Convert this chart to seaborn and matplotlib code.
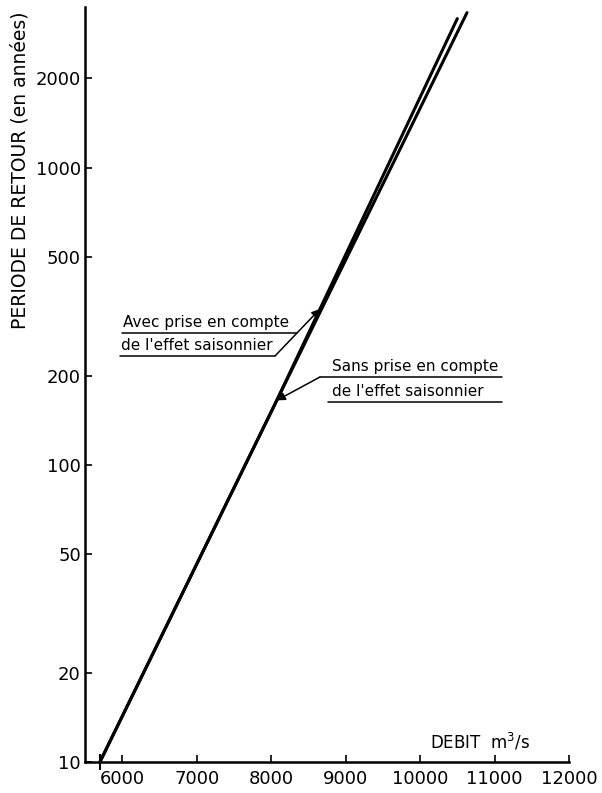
import numpy as np
import pandas as pd
import matplotlib
matplotlib.use("Agg")
import matplotlib.pyplot as plt
import seaborn as sns

# Débit (m3/s) et période de retour (années) le long de chaque droite
debit_avec = [5700, 8050, 10500]
periode_avec = [10, 160, 3180]
debit_sans = [5700, 8050, 10630]
periode_sans = [10, 160, 3330]

label_avec = "Avec prise en compte\nde l'effet saisonnier"
label_sans = "Sans prise en compte\nde l'effet saisonnier"

x_ticks = [6000, 7000, 8000, 9000, 10000, 11000, 12000]
y_ticks = [10, 20, 50, 100, 200, 500, 1000, 2000]

df = pd.concat([
    pd.DataFrame({"debit": debit_avec, "periode": periode_avec, "serie": "avec"}),
    pd.DataFrame({"debit": debit_sans, "periode": periode_sans, "serie": "sans"}),
], ignore_index=True)

sns.set_style("ticks")
plt.rcParams["font.family"] = ["DejaVu Sans"]
plt.rcParams["text.color"] = "black"
plt.rcParams["axes.labelcolor"] = "black"

W, H = 602, 793
fig = plt.figure(figsize=(W / 100, H / 100), dpi=100)
ax_l, ax_r, ax_t, ax_b = 85, 569, 7, 762
ax = fig.add_axes([ax_l / W, 1 - ax_b / H, (ax_r - ax_l) / W, (ax_b - ax_t) / H])

sns.lineplot(data=df, x="debit", y="periode", hue="serie",
             palette={"avec": "black", "sans": "black"}, linewidth=2.2,
             legend=False, ax=ax, sort=False)
# petit repère au point de départ commun
ax.plot([debit_avec[0]], [periode_avec[0]], marker="|", ms=12, mew=1.5,
        color="black", clip_on=False)

ax.set_yscale("log")
ax.set_xlim(5500, 12000)
ax.set_ylim(10, 3480)
ax.set_xticks(x_ticks)
ax.set_xticklabels([str(v) for v in x_ticks])
ax.set_yticks(y_ticks)
ax.set_yticklabels([str(v) for v in y_ticks])
ax.minorticks_off()
ax.tick_params(axis="both", direction="in", length=5, width=1.2,
               labelsize=13, colors="black")
ax.tick_params(axis="y", pad=3)
ax.tick_params(axis="x", pad=6)
ax.set_xlabel("")
ax.set_ylabel("")
for s in ("top", "right"):
    ax.spines[s].set_visible(False)
for s in ("left", "bottom"):
    ax.spines[s].set_linewidth(1.8)
    ax.spines[s].set_color("black")


def fx(px):
    return (px - ax_l) / (ax_r - ax_l)


def fy(py):
    return (ax_b - py) / (ax_b - ax_t)


def point_on(debits, periodes, t):
    lp = np.log10(periodes)
    return float(np.interp(np.log10(t), lp, debits)), t


tr = ax.transAxes
lk = dict(color="black", lw=1.1, transform=tr, clip_on=False)
ak = dict(arrowstyle="-|>", color="black", lw=1.1, mutation_scale=12,
          shrinkA=0, shrinkB=0)

# étiquette "avec"
ax.text(fx(123), fy(322), label_avec.split("\n")[0], transform=tr,
        fontsize=11, va="center", ha="left")
ax.text(fx(121), fy(345), label_avec.split("\n")[1], transform=tr,
        fontsize=11, va="center", ha="left")
ax.plot([fx(122), fx(297)], [fy(333), fy(333)], **lk)
ax.plot([fx(120), fx(275)], [fy(356), fy(356)], **lk)
xa, ya = point_on(debit_avec, periode_avec, 335)
ax.annotate("", xy=(xa, ya), xycoords="data",
            xytext=(fx(275), fy(356)), textcoords="axes fraction",
            arrowprops=ak)

# étiquette "sans"
ax.text(fx(332), fy(366), label_sans.split("\n")[0], transform=tr,
        fontsize=11, va="center", ha="left")
ax.text(fx(332), fy(391), label_sans.split("\n")[1], transform=tr,
        fontsize=11, va="center", ha="left")
ax.plot([fx(320), fx(502)], [fy(377), fy(377)], **lk)
ax.plot([fx(328), fx(502)], [fy(402), fy(402)], **lk)
xs, ys = point_on(debit_sans, periode_sans, 165)
ax.annotate("", xy=(xs, ys), xycoords="data",
            xytext=(fx(320), fy(377)), textcoords="axes fraction",
            arrowprops=ak)

ax.text(fx(480), fy(742), "DEBIT  m$^3$/s", transform=tr, fontsize=12,
        ha="center", va="center")

fig.text(20 / W, 1 - 170 / H, "PERIODE DE RETOUR (en années)", rotation=90,
         ha="center", va="center", fontsize=13.5)

fig.savefig("out.png", dpi=100, facecolor="white")
